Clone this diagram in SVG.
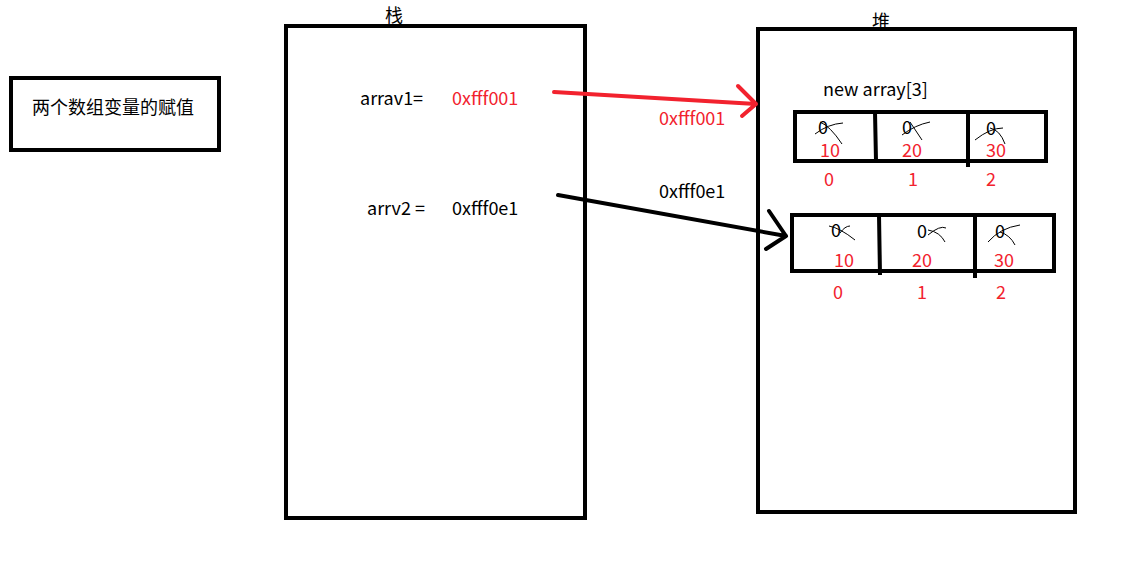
<svg xmlns="http://www.w3.org/2000/svg" width="1136" height="563" viewBox="0 0 1136 563">
<style>
.box{fill:none;stroke:#000;stroke-width:4}
.t{font-family:"Microsoft YaHei","Noto Sans CJK SC","Noto Sans",sans-serif;font-size:18px;fill:#000}
.r{fill:#f2222e}
.s{fill:none;stroke:#000;stroke-width:1}
</style>
<rect width="1136" height="563" fill="#fff"/>
<g id="title"><rect class="box" x="11" y="78" width="208" height="72"/><text class="t" x="32" y="114">两个数组变量的赋值</text></g>
<g id="stack"><rect class="box" x="286" y="26" width="299" height="492"/><text class="t" x="385" y="22">栈</text>
<text class="t" x="360" y="105">arrav1=</text><text class="t r" x="452" y="105">0xfff001</text>
<text class="t" x="367" y="215">arrv2 =</text><text class="t" x="452" y="215">0xfff0e1</text></g>
<g id="heap"><rect class="box" x="758" y="29" width="317" height="483"/><text class="t" x="872" y="28">堆</text>
<text class="t" x="823" y="96">new array[3]</text></g>
<g id="array1"><rect class="box" x="795" y="112" width="251" height="49"/>
<path d="M875 112L876 161M968 112L968 167" stroke="#000" stroke-width="4" fill="none"/>
<text class="t" x="818" y="134">0</text><text class="t" x="902" y="134">0</text><text class="t" x="986" y="135">0</text>
<path class="s" d="M820 122Q830 126 842 144M815 134Q828 124 843 123M910 122L922 140M902 135Q915 125 930 122M975 140Q990 128 1003 128M990 128Q1000 130 1005 144"/>
<text class="t r" x="820" y="157">10</text><text class="t r" x="902" y="157">20</text><text class="t r" x="986" y="157">30</text>
<text class="t r" x="824" y="186">0</text><text class="t r" x="908" y="186">1</text><text class="t r" x="986" y="186">2</text></g>
<g id="array2"><rect class="box" x="792" y="215" width="262" height="56"/>
<path d="M879 215L880 275M975 215L975 278" stroke="#000" stroke-width="4" fill="none"/>
<text class="t" x="831" y="237">0</text><text class="t" x="917" y="238">0</text><text class="t" x="995" y="238">0</text>
<path class="s" d="M829 226Q840 228 855 240M840 233Q845 226 850 226M928 235Q940 225 946 228M928 230Q940 232 945 242M988 242Q1000 228 1020 225M1000 232Q1010 235 1015 245"/>
<text class="t r" x="834" y="267">10</text><text class="t r" x="912" y="267">20</text><text class="t r" x="994" y="267">30</text>
<text class="t r" x="833" y="299">0</text><text class="t r" x="917" y="299">1</text><text class="t r" x="996" y="299">2</text></g>
<g id="connectors" fill="none" stroke-width="4" stroke-linecap="round" stroke-linejoin="round">
<path d="M554 92L756 104M738 86L756 104L742 116" stroke="#f2222e"/>
<path d="M558 195L786 236M769 211L786 236L766 249" stroke="#000"/>
<text class="t r" x="659" y="125" stroke="none">0xfff001</text>
<text class="t" x="659" y="198" stroke="none">0xfff0e1</text>
</g>
</svg>
